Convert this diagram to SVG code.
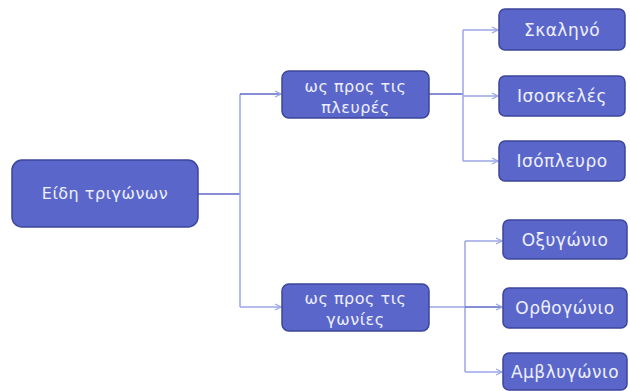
<svg xmlns="http://www.w3.org/2000/svg" width="630" height="391" viewBox="0 0 630 391">
<style>
.n{fill:#5a66c9;stroke:#3c469a;stroke-width:1.5}
.t{fill:#eef0ff;font-family:"DejaVu Sans","Open Sans",sans-serif;font-size:16px;letter-spacing:0.5px;text-anchor:middle;dominant-baseline:central}
.l{font-size:17px}
.c{fill:none;stroke:#9aa6e6;stroke-width:1.5}
.d{fill:none;stroke:#5e6ac4;stroke-width:1.5}
</style>
<defs>
<marker id="a" markerWidth="8" markerHeight="8" refX="7" refY="4" orient="auto" markerUnits="userSpaceOnUse">
<path d="M1,1 L7,4 L1,7" fill="none" stroke="#9aa6e6" stroke-width="1.2"/>
</marker>
</defs>
<rect width="630" height="391" fill="#ffffff"/>
<g id="connectors">
<path class="d" d="M198,194 H240"/>
<path class="c" d="M240,94 V307"/>
<path class="d" d="M240,94 H281" marker-end="url(#a)"/>
<path class="c" d="M240,307 H281" marker-end="url(#a)"/>
<path class="d" d="M429,94 H463"/>
<path class="c" d="M463,30 V161"/>
<path class="c" d="M463,30 H498" marker-end="url(#a)"/>
<path class="c" d="M463,96 H498" marker-end="url(#a)"/>
<path class="c" d="M463,161 H498" marker-end="url(#a)"/>
<path class="c" d="M429,307 H465"/>
<path class="c" d="M465,241 V372"/>
<path class="c" d="M465,241 H502" marker-end="url(#a)"/>
<path class="d" d="M465,307 H502" marker-end="url(#a)"/>
<path class="c" d="M465,372 H502" marker-end="url(#a)"/>
</g>
<g id="root"><rect class="n" x="12" y="160" width="186" height="67" rx="10"/><text class="t" x="105" y="193.5">Είδη τριγώνων</text></g>
<g id="sides"><rect class="n" x="282" y="71" width="147" height="47" rx="7"/><text class="t" x="355.5" y="86">ως προς τις</text><text class="t" x="355.5" y="107">πλευρές</text></g>
<g id="angles"><rect class="n" x="282" y="284" width="147" height="47" rx="7"/><text class="t" x="355.5" y="298">ως προς τις</text><text class="t" x="355.5" y="319">γωνίες</text></g>
<g id="scalene"><rect class="n" x="499" y="9" width="126" height="41" rx="6"/><text class="t l" x="562" y="29.5">Σκαληνό</text></g>
<g id="isosceles"><rect class="n" x="499" y="76" width="126" height="40" rx="6"/><text class="t l" x="562" y="96">Ισοσκελές</text></g>
<g id="equilateral"><rect class="n" x="499" y="141" width="126" height="40" rx="6"/><text class="t l" x="562" y="161">Ισόπλευρο</text></g>
<g id="acute"><rect class="n" x="503" y="220" width="124" height="39" rx="6"/><text class="t l" x="565" y="239.5">Οξυγώνιο</text></g>
<g id="right"><rect class="n" x="503" y="288" width="124" height="40" rx="6"/><text class="t l" x="565" y="308">Ορθογώνιο</text></g>
<g id="obtuse"><rect class="n" x="503" y="353" width="124" height="37" rx="6"/><text class="t l" x="565" y="372">Αμβλυγώνιο</text></g>
</svg>
